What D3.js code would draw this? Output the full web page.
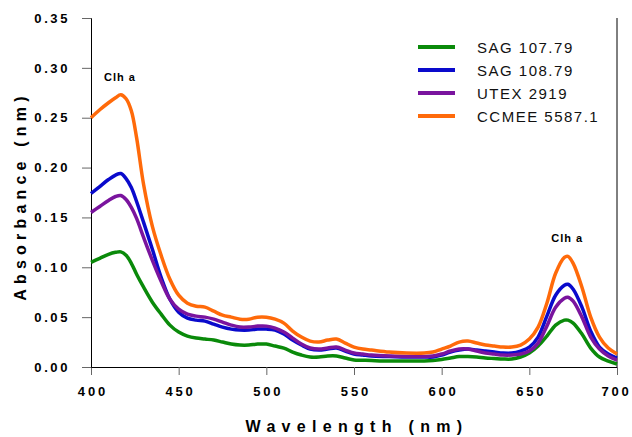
<!DOCTYPE html>
<html>
<head>
<meta charset="utf-8">
<script src="https://cdn.jsdelivr.net/npm/d3@7"></script>
<style>
  body { margin: 0; background: #fff; }
  text { font-family: Arial, "Liberation Sans", sans-serif; }
</style>
</head>
<body>
<div id="chart"></div>
<script>
// wavelengths (nm) shared by all spectra
var wavelengths = [400,405,410,414,417,420,423,426,430,435,440,445,450,455,460,465,470,475,480,485,490,
  495,500,505,510,515,520,525,530,535,540,545,550,555,560,570,580,590,595,600,605,
  610,615,620,625,630,635,640,645,650,655,660,665,670,672,675,680,685,690,695,700];

var sag10779 = [0.105,0.109,0.113,0.115,0.1155,0.112,0.104,0.093,0.080,0.065,0.053,0.042,0.035,0.031,0.029,0.028,0.027,0.025,0.023,0.022,0.022,
  0.023,0.023,0.021,0.019,0.015,0.012,0.010,0.010,0.011,0.011,0.009,0.007,0.0068,0.0065,0.006,0.006,0.006,0.0065,0.0075,0.009,
  0.0105,0.0105,0.010,0.009,0.0085,0.008,0.008,0.010,0.014,0.021,0.031,0.042,0.047,0.047,0.044,0.033,0.019,0.010,0.006,0.003];

var sag10879 = [0.174,0.181,0.188,0.1925,0.194,0.189,0.180,0.166,0.145,0.118,0.090,0.068,0.055,0.049,0.047,0.046,0.043,0.040,0.038,0.037,0.037,
  0.038,0.038,0.037,0.033,0.027,0.022,0.018,0.017,0.018,0.019,0.016,0.013,0.012,0.011,0.0105,0.010,0.010,0.010,0.012,0.015,
  0.017,0.018,0.017,0.016,0.015,0.014,0.014,0.016,0.020,0.030,0.051,0.072,0.082,0.083,0.078,0.060,0.036,0.020,0.013,0.009];

var utex2919 = [0.155,0.161,0.167,0.171,0.172,0.168,0.160,0.149,0.130,0.107,0.086,0.068,0.058,0.053,0.051,0.050,0.048,0.045,0.042,0.040,0.040,
  0.041,0.041,0.039,0.035,0.029,0.023,0.019,0.018,0.019,0.020,0.017,0.014,0.013,0.012,0.011,0.0105,0.0105,0.011,0.013,0.016,
  0.018,0.018,0.016,0.014,0.013,0.012,0.012,0.013,0.016,0.024,0.041,0.060,0.069,0.070,0.066,0.050,0.030,0.018,0.011,0.007];

var ccmee55871 = [0.250,0.258,0.265,0.270,0.273,0.269,0.257,0.230,0.183,0.141,0.112,0.088,0.072,0.064,0.061,0.060,0.056,0.052,0.050,0.048,0.048,
  0.050,0.050,0.048,0.044,0.036,0.030,0.026,0.025,0.027,0.028,0.024,0.020,0.018,0.017,0.015,0.014,0.014,0.015,0.018,0.021,
  0.025,0.026,0.024,0.022,0.021,0.020,0.020,0.022,0.028,0.040,0.064,0.094,0.110,0.111,0.104,0.080,0.050,0.030,0.019,0.013];

var seriesNames = ["SAG 107.79", "SAG 108.79", "UTEX 2919", "CCMEE 5587.1"];
var seriesValues = [sag10779, sag10879, utex2919, ccmee55871];
var seriesColors = ["#0a8a0a", "#0a0acc", "#7a149e", "#ff6a0a"];

var xTicks = [400, 450, 500, 550, 600, 650, 700];
var yTicks = [0, 0.05, 0.10, 0.15, 0.20, 0.25, 0.30, 0.35];

// peak annotations
var peakLabels = [{wl: 416, v: 0.273, text: "Clh a"}, {wl: 671, v: 0.111, text: "Clh a"}];

var margin = {top: 18, right: 15, bottom: 70, left: 91},
    width = 632 - margin.left - margin.right,
    height = 437 - margin.top - margin.bottom;

var svg = d3.select("#chart")
  .append("svg")
    .attr("width", 632)
    .attr("height", 437)
  .append("g")
    .attr("transform", "translate(" + margin.left + "," + margin.top + ")");

var x = d3.scaleLinear().domain([400, 700]).range([0, width]);
var y = d3.scaleLinear().domain([0, 0.35]).range([height, 0]);

// X axis
var xAxis = svg.append("g")
  .attr("transform", "translate(0," + height + ")")
  .call(d3.axisBottom(x).tickValues(xTicks).tickSize(8).tickPadding(12).tickFormat(d3.format("d")));
xAxis.select(".domain").attr("stroke", "#000");
xAxis.selectAll(".tick line").attr("stroke", "#666");
xAxis.selectAll(".tick text")
  .attr("font-size", 13).attr("font-weight", "bold").attr("fill", "#000")
  .attr("letter-spacing", "2.8px")
  .attr("dx", function(d) { return d === 700 ? "-1px" : "1.4px"; });

// Y axis
var yAxis = svg.append("g")
  .call(d3.axisLeft(y).tickValues(yTicks).tickSize(9).tickPadding(12).tickFormat(d3.format(".2f")));
yAxis.select(".domain").attr("stroke", "#000");
yAxis.selectAll(".tick line").attr("stroke", "#666");
yAxis.selectAll(".tick text")
  .attr("font-size", 13).attr("font-weight", "bold").attr("fill", "#000")
  .attr("letter-spacing", "2.6px");

// right frame line
svg.append("line")
  .attr("x1", width).attr("x2", width)
  .attr("y1", 0).attr("y2", height)
  .attr("stroke", "#000");

// spectra
var line = d3.line()
  .x(function(d) { return x(d[0]); })
  .y(function(d) { return y(d[1]); })
  .curve(d3.curveCatmullRom.alpha(0.5));

seriesValues.forEach(function(vals, i) {
  svg.append("path")
    .datum(wavelengths.map(function(w, j) { return [w, vals[j]]; }))
    .attr("fill", "none")
    .attr("stroke", seriesColors[i])
    .attr("stroke-width", 3.5)
    .attr("stroke-linejoin", "round")
    .attr("d", line);
});

// peak labels
svg.selectAll(".peak")
  .data(peakLabels)
  .enter().append("text")
    .attr("x", function(d) { return x(d.wl) + 1; })
    .attr("y", function(d) { return y(d.v) - 14; })
    .attr("text-anchor", "middle")
    .attr("font-size", 11)
    .attr("font-weight", "bold")
    .attr("letter-spacing", "1px")
    .text(function(d) { return d.text; });

// legend
var legend = svg.append("g").attr("transform", "translate(327,29)");
seriesNames.forEach(function(name, i) {
  legend.append("line")
    .attr("x1", 0).attr("x2", 37)
    .attr("y1", i * 23).attr("y2", i * 23)
    .attr("stroke", seriesColors[i])
    .attr("stroke-width", 4);
  legend.append("text")
    .attr("x", 59).attr("y", i * 23 + 5.5)
    .attr("font-size", 15)
    .attr("letter-spacing", "1.5px")
    .attr("fill", "#111")
    .text(name);
});

// axis titles
svg.append("text")
  .attr("x", width / 2 + 3)
  .attr("y", height + 65)
  .attr("text-anchor", "middle")
  .attr("font-size", 16)
  .attr("font-weight", "bold")
  .attr("letter-spacing", "6.3px")
  .text("Wavelength (nm)");

svg.append("text")
  .attr("transform", "rotate(-90)")
  .attr("x", -(196 - margin.top))
  .attr("y", -65)
  .attr("text-anchor", "middle")
  .attr("font-size", 16)
  .attr("font-weight", "bold")
  .attr("letter-spacing", "5.2px")
  .text("Absorbance (nm)");
</script>
</body>
</html>
